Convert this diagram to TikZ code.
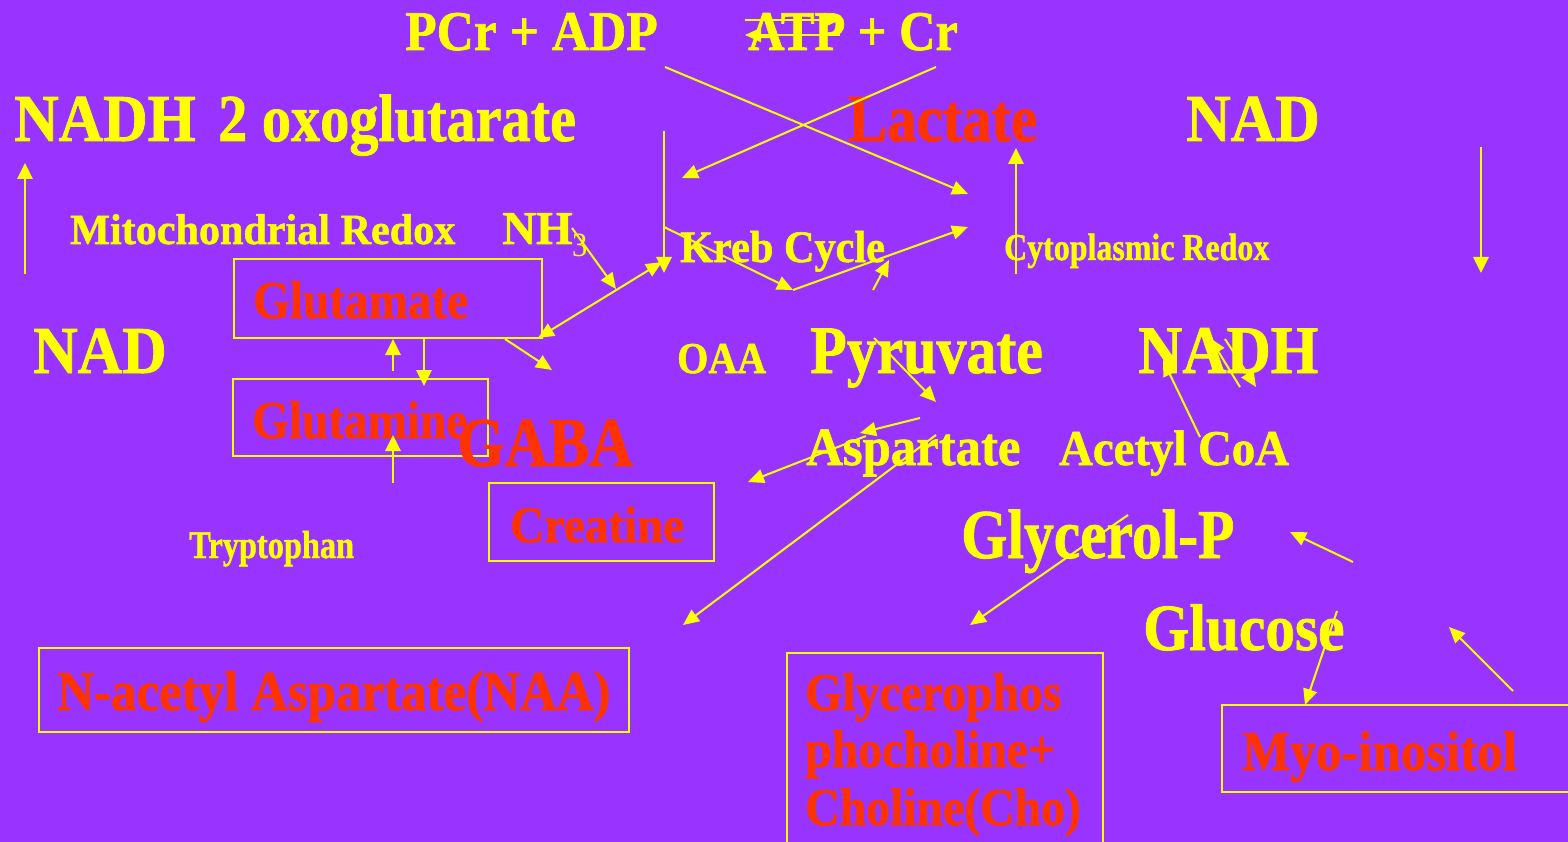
\documentclass[tikz,border=0pt]{standalone}
\usepackage{fontspec}
\usepackage{graphicx}
\setmainfont{Liberation Serif}[BoldFeatures={FakeBold=1.2}]
\usetikzlibrary{arrows.meta}
\definecolor{bgpurple}{RGB}{153,51,255}
\definecolor{yel}{RGB}{255,255,0}
\definecolor{rd}{RGB}{255,51,0}
\newcommand{\mytx}[3]{\fontsize{#1}{#1}\selectfont\scalebox{#2}[1]{#3}}
\tikzset{
  lbl/.style={anchor=base west, inner sep=0pt, text=yel, font=\bfseries},
  rlbl/.style={anchor=base west, inner sep=0pt, text=rd, font=\bfseries},
  arr/.style={draw=yel, line width=2pt, -{Triangle[length=16pt,width=14pt]}},
  varr/.style={draw=yel, line width=2.8pt, -{Triangle[length=16pt,width=15pt]}},
  darr/.style={draw=yel, line width=2pt, {Triangle[length=16pt,width=14pt]}-{Triangle[length=16pt,width=14pt]}},
  boxx/.style={draw=yel, line width=2.2pt, anchor=north west, inner sep=0pt}
}
\begin{document}
\begin{tikzpicture}[x=1pt,y=-1pt]
\fill[bgpurple] (0,0) rectangle (1568,842);
\useasboundingbox (0,0) rectangle (1568,842);

% boxes
\node[boxx, minimum width=308pt, minimum height=79pt] (gluBox) at (233,258) {};
\node[boxx, minimum width=255pt, minimum height=77pt] (glnBox) at (232,378) {};
\node[boxx, minimum width=225pt, minimum height=78pt] (creBox) at (488,482) {};
\node[boxx, minimum width=590pt, minimum height=84pt] (naaBox) at (38,647) {};
\node[boxx, minimum width=316pt, minimum height=200pt] (gpcBox) at (786,652) {};
\node[boxx, minimum width=360pt, minimum height=87pt] (myoBox) at (1221,704) {};

% texts
\node[lbl] (pcr) at (405,50) {\mytx{56}{0.92}{PCr + ADP}};
\node[lbl] (atp) at (748,50) {\mytx{56}{0.9}{ATP + Cr}};
\node[lbl] (nadhA) at (14,141) {\mytx{67}{0.92}{NADH}};
\node[lbl] (oxo) at (218,141) {\mytx{67}{0.87}{2 oxoglutarate}};
\node[rlbl] (lac) at (848,141) {\mytx{67}{0.875}{Lactate}};
\node[lbl] (nadA) at (1186,141) {\mytx{67}{0.92}{NAD}};
\node[lbl] (mito) at (70,244) {\mytx{43}{0.98}{Mitochondrial Redox}};
\node[lbl] (nh) at (502,244) {\mytx{47}{1.0}{NH}};
\node[lbl, font=\mdseries] (three) at (572,257) {\mytx{34}{0.9}{3}};
\node[lbl] (kreb) at (680,262) {\mytx{45}{0.94}{Kreb Cycle}};
\node[lbl] (cyto) at (1004,260) {\mytx{38}{0.84}{Cytoplasmic Redox}};
\node[rlbl] (glu) at (253,318) {\mytx{53}{0.89}{Glutamate}};
\node[lbl] (nadB) at (33,373) {\mytx{67}{0.92}{NAD}};
\node[lbl] (oaa) at (677,373) {\mytx{44}{0.91}{OAA}};
\node[lbl] (pyr) at (810,373) {\mytx{68}{0.88}{Pyruvate}};
\node[lbl] (nadhB) at (1138,373) {\mytx{68}{0.9}{NADH}};
\node[rlbl] (gln) at (252,438) {\mytx{53}{0.89}{Glutamine}};
\node[rlbl] (gaba) at (457,466) {\mytx{70}{0.87}{GABA}};
\node[lbl] (asp) at (806,465) {\mytx{54}{0.94}{Aspartate}};
\node[lbl] (acoa) at (1059,465) {\mytx{50}{0.935}{Acetyl CoA}};
\node[rlbl] (cre) at (510,542) {\mytx{51}{0.92}{Creatine}};
\node[lbl] (trp) at (189,558) {\mytx{39}{0.83}{Tryptophan}};
\node[lbl] (glyp) at (961,558) {\mytx{70}{0.85}{Glycerol-P}};
\node[lbl] (gluc) at (1143,650) {\mytx{66}{0.9}{Glucose}};
\node[rlbl] (naa) at (57,710) {\mytx{56}{0.91}{N-acetyl Aspartate(NAA)}};
\node[rlbl] (gpcA) at (805,710) {\mytx{53}{0.9}{Glycerophos}};
\node[rlbl] (gpcB) at (805,767) {\mytx{53}{0.9}{phocholine+}};
\node[rlbl] (gpcC) at (805,825) {\mytx{53}{0.9}{Choline(Cho)}};
\node[rlbl] (myo) at (1242,770) {\mytx{56}{0.91}{Myo-inositol}};

% connector end points
\coordinate (atpL) at (745,20);  \coordinate (atpR) at (840,20);
\coordinate (adpL) at (745,35);  \coordinate (adpR) at (840,35);
\coordinate (xA1) at (665,67);   \coordinate (xA2) at (968,194);
\coordinate (xB1) at (936,67);   \coordinate (xB2) at (682,178);
\coordinate (lupB) at (25,274);  \coordinate (lupT) at (25,163);
\coordinate (vT) at (664,131);   \coordinate (vB) at (664,273);
\coordinate (kA) at (664,227);   \coordinate (kB) at (793,290);
\coordinate (kC) at (968,227);
\coordinate (kS1) at (873,290);  \coordinate (kS2) at (889,260);
\coordinate (cyB) at (1016,274); \coordinate (cyT) at (1016,148);
\coordinate (rT) at (1481,147);  \coordinate (rB) at (1481,273);
\coordinate (nhA) at (572,228);  \coordinate (nhB) at (616,289);
\coordinate (dA) at (538,338);   \coordinate (dB) at (662,262);
\coordinate (ggA) at (505,339);  \coordinate (ggB) at (552,370);
\coordinate (q1a) at (393,371);  \coordinate (q1b) at (393,339);
\coordinate (q2a) at (424,339);  \coordinate (q2b) at (424,386);
\coordinate (q3a) at (393,483);  \coordinate (q3b) at (393,435);
\coordinate (pyA) at (874,338);  \coordinate (pyB) at (936,402);
\coordinate (asA) at (920,418);  \coordinate (asB) at (860,433);
\coordinate (asC) at (866,436);  \coordinate (asD) at (748,482);
\coordinate (naA) at (936,435);  \coordinate (naB) at (683,625);
\coordinate (gpA) at (1128,515); \coordinate (gpB) at (970,625);
\coordinate (gpR1) at (1353,562); \coordinate (gpR2) at (1290,532);
\coordinate (guA) at (1337,611); \coordinate (guB) at (1305,705);
\coordinate (myA) at (1513,691); \coordinate (myB) at (1449,627);
\coordinate (nhdA) at (1200,437); \coordinate (nhdB) at (1163,360);
\coordinate (nheA) at (1240,387); \coordinate (nheB) at (1210,338);
\coordinate (nhfA) at (1225,339); \coordinate (nhfB) at (1256,387);

% connectors
\draw[arr] (atpL) -- (atpR);
\draw[arr] (adpR) -- (adpL);
\draw[arr] (xA1) -- (xA2);
\draw[arr] (xB1) -- (xB2);
\draw[varr] (lupB) -- (lupT);
\draw[varr] (vT) -- (vB);
\draw[arr] (kA) -- (kB);
\draw[arr] (kB) -- (kC);
\draw[arr] (kS1) -- (kS2);
\draw[varr] (cyB) -- (cyT);
\draw[varr] (rT) -- (rB);
\draw[arr] (nhA) -- (nhB);
\draw[darr] (dA) -- (dB);
\draw[arr] (ggA) -- (ggB);
\draw[varr] (q1a) -- (q1b);
\draw[varr] (q2a) -- (q2b);
\draw[varr] (q3a) -- (q3b);
\draw[arr] (pyA) -- (pyB);
\draw[arr] (asA) -- (asB);
\draw[arr] (asC) -- (asD);
\draw[arr] (naA) -- (naB);
\draw[arr] (gpA) -- (gpB);
\draw[arr] (gpR1) -- (gpR2);
\draw[arr] (guA) -- (guB);
\draw[arr] (myA) -- (myB);
\draw[arr] (nhdA) -- (nhdB);
\draw[arr] (nheA) -- (nheB);
\draw[arr] (nhfA) -- (nhfB);
\end{tikzpicture}
\end{document}
